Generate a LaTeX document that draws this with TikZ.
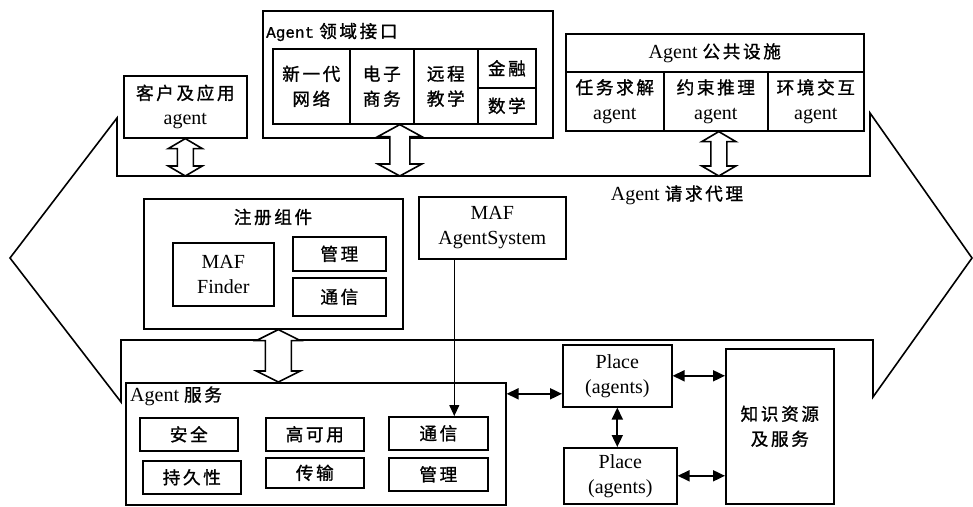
\documentclass[tikz,border=0pt]{standalone}
\usepackage{fontspec}
\setmainfont{Liberation Serif}
\newfontfamily\cjk[Scale=0.88,LetterSpace=15,FakeBold=1.2]{Noto Sans CJK SC}
\newfontfamily\monoA[FakeBold=1]{Liberation Mono}
\usetikzlibrary{arrows.meta,calc}
\newcommand\zh[1]{{\cjk #1}}
\newcommand\rbox[6]{\node[box,anchor=north west,minimum width={(#4-#2)*1pt},minimum height={(#5-#3)*1pt}] (#1) at (#2,#3) {#6};}
\newcommand\harrow[5]{%
\draw[harr] let \p1=(#1), \p2=(#2) in
 (\x1,\y1) -- ({\x1+#3},{\y1-#5}) -- ({\x1+#4},{\y1-#5}) -- ({\x1+#4},{\y2+#5}) -- ({\x1+#3},{\y2+#5}) -- (\x1,\y2)
 -- ({\x1-#3},{\y2+#5}) -- ({\x1-#4},{\y2+#5}) -- ({\x1-#4},{\y1-#5}) -- ({\x1-#3},{\y1-#5}) -- cycle;}
\begin{document}
\begin{tikzpicture}[x=1pt,y=-1pt,
  every node/.style={font=\fontsize{20}{25}\selectfont},
  box/.style={draw,line width=1.6pt,inner sep=0pt,align=center},
  band/.style={line width=1.6pt,line join=miter},
  harr/.style={draw,fill=white,line width=1.6pt,line join=miter},
  conn/.style={line width=1.8pt,{Triangle[length=12pt,width=11pt]}-{Triangle[length=12pt,width=11pt]}},
  oneway/.style={line width=1.1pt,-{Triangle[length=11pt,width=10pt]}},
  lbl/.style={inner sep=0pt}]
\useasboundingbox (0,0) rectangle (973,506);

% outer double-arrow band
\coordinate (LT) at (10,258);
\coordinate (TL) at (117,118);
\coordinate (TLb) at (117,176);
\coordinate (TRb) at (870,176);
\coordinate (TR) at (870,113);
\coordinate (RT) at (972,258);
\coordinate (BR) at (873,397);
\coordinate (BRt) at (873,340);
\coordinate (BLt) at (121,340);
\coordinate (BL) at (121,402);
\draw[band] (LT) -- (TL) -- (TLb) -- (TRb) -- (TR) -- (RT) -- (BR) -- (BRt) -- (BLt) -- (BL) -- cycle;

% top row
\rbox{cust}{123}{75}{246}{137}{\zh{客户及应用}\\agent}
\rbox{domain}{262}{10}{552}{137}{}
\node[lbl,anchor=west] (domt) at (266,32) {{\monoA\fontsize{16}{20}\selectfont Agent} \zh{领域接口}};
\rbox{c1}{272}{48}{349}{123}{\zh{新一代}\\\zh{网络}}
\rbox{c2}{349}{48}{413}{123}{\zh{电子}\\\zh{商务}}
\rbox{c3}{413}{48}{477}{123}{\zh{远程}\\\zh{教学}}
\rbox{c4}{477}{48}{535}{87}{\zh{金融}}
\rbox{c5}{477}{87}{535}{123}{\zh{数学}}

\rbox{common}{565}{33}{863}{71}{Agent \zh{公共设施}}
\rbox{p1}{565}{71}{663}{130}{\zh{任务求解}\\agent}
\rbox{p2}{663}{71}{767}{130}{\zh{约束推理}\\agent}
\rbox{p3}{767}{71}{863}{130}{\zh{环境交互}\\agent}

\node[lbl] (broker) at (677,195) {Agent \zh{请求代理}};

% middle
\rbox{reg}{143}{198}{402}{328}{}
\node[lbl] (regt) at (273,217) {\zh{注册组件}};
\rbox{finder}{172}{242}{273}{305}{MAF\\Finder}
\rbox{rmg}{292}{236}{385}{270}{\zh{管理}}
\rbox{rcm}{292}{277}{385}{315}{\zh{通信}}
\rbox{mafas}{418}{196}{565}{258}{MAF\\AgentSystem}

% bottom
\rbox{svc}{125}{382}{505}{504}{}
\node[lbl,anchor=west] (svct) at (130,396) {Agent \zh{服务}};
\rbox{s1}{139}{417}{237}{450}{\zh{安全}}
\rbox{s2}{265}{417}{363}{450}{\zh{高可用}}
\rbox{s3}{388}{416}{487}{449}{\zh{通信}}
\rbox{s4}{142}{460}{240}{493}{\zh{持久性}}
\rbox{s5}{265}{457}{363}{487}{\zh{传输}}
\rbox{s6}{388}{457}{487}{490}{\zh{管理}}

\rbox{place1}{562}{344}{671}{406}{Place\\(agents)}
\rbox{place2}{563}{447}{676}{503}{Place\\(agents)}
\rbox{know}{725}{348}{833}{503}{\zh{知识资源}\\\zh{及服务}}

% hollow double arrows
\harrow{cust.south}{cust.south |- TLb}{17pt}{8pt}{10pt}
\harrow{[xshift=-8pt]domain.south |- c1.south}{[xshift=-8pt]domain.south |- TLb}{22pt}{10pt}{12pt}
\harrow{[xshift=4pt]common.south |- p1.south}{[xshift=4pt]common.south |- TRb}{17pt}{8pt}{10pt}
\harrow{[xshift=5pt]reg.south}{[xshift=5pt]reg.south |- svc.north}{22pt}{13pt}{11pt}

% connectors
\draw[oneway] ([xshift=-38pt]mafas.south) -- ([xshift=-38pt]mafas.south |- s3.north);
\draw[conn] ([yshift=-18pt]place1.west -| svc.east) -- ([yshift=-18pt]place1.west);
\draw[conn] (place1.east) -- (place1.east -| know.west);
\draw[conn] (place1.south) -- (place1.south |- place2.north);
\draw[conn] (place2.east) -- (place2.east -| know.west);
\end{tikzpicture}
\end{document}
